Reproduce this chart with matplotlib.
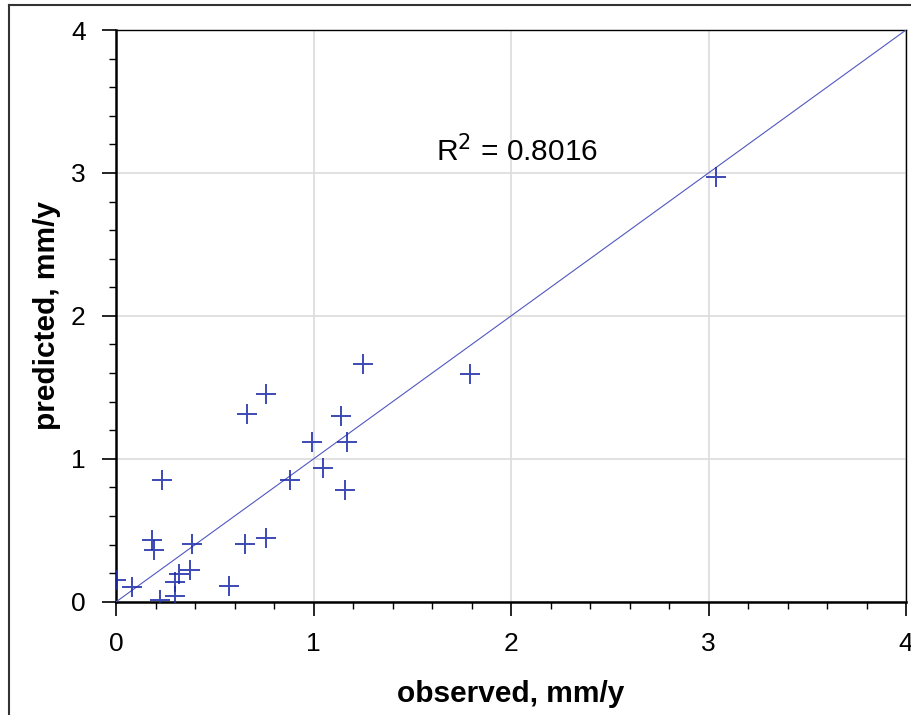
import matplotlib
matplotlib.use('Agg')
import matplotlib.pyplot as plt
from matplotlib.ticker import MultipleLocator
from matplotlib.lines import Line2D

plt.rcParams['font.family'] = ['Liberation Sans', 'DejaVu Sans']

# observed vs predicted, mm/y
observed = [3.04, 1.79, 1.25, 0.76, 0.66, 1.14, 0.99, 1.17, 1.045, 0.88,
            1.16, 0.23, 0.18, 0.19, 0.385, 0.65, 0.76, 0.0, 0.08, 0.22,
            0.295, 0.295, 0.315, 0.375, 0.57]
predicted = [2.97, 1.59, 1.66, 1.45, 1.31, 1.30, 1.115, 1.115, 0.935, 0.85,
             0.78, 0.85, 0.43, 0.365, 0.405, 0.405, 0.445, 0.155, 0.10, 0.015,
             0.04, 0.14, 0.195, 0.225, 0.11]
one_to_one = [0, 4]
r2_text = 'R$^2$ = 0.8016'

fig = plt.figure(figsize=(9.11, 7.15), dpi=100)
ax = fig.add_axes([0.1277, 0.1585, 0.8668, 0.7995])

ax.plot(one_to_one, one_to_one, color='#5058c0', lw=0.8, zorder=3)
ax.plot(observed, predicted, linestyle='none', marker='+', markersize=14,
        mew=1.4, color='#1a2aa8', alpha=0.85, zorder=4)

ax.set_xlim(0, 4)
ax.set_ylim(0, 4)
ax.xaxis.set_major_locator(MultipleLocator(1))
ax.yaxis.set_major_locator(MultipleLocator(1))
ax.xaxis.set_minor_locator(MultipleLocator(0.2))
ax.yaxis.set_minor_locator(MultipleLocator(0.2))
ax.grid(True, which='major', color='#dcdcdc', lw=1.2)
ax.set_axisbelow(True)

ax.tick_params(which='major', direction='out', length=10, width=1.2,
               labelsize=19, pad=12)
ax.tick_params(which='minor', direction='out', length=5, width=1)
for side in ['left', 'bottom']:
    ax.spines[side].set_linewidth(1.8)
for side in ['top', 'right']:
    ax.spines[side].set_linewidth(1.0)

ax.set_xlabel('observed, mm/y', fontsize=21.5, fontweight='bold', labelpad=17)
ax.set_ylabel('predicted, mm/y', fontsize=21.5, fontweight='bold', labelpad=7)

ax.text(1.62, 3.15, r2_text, fontsize=21.5, ha='left', va='center')

# outer frame (top and left edges visible)
fig.add_artist(Line2D([0.0099, 0.0099], [0.0, 0.993], transform=fig.transFigure,
                      color='#333333', lw=1.5))
fig.add_artist(Line2D([0.0099, 1.0], [0.993, 0.993], transform=fig.transFigure,
                      color='#333333', lw=1.5))

fig.savefig('out.png', dpi=100)
